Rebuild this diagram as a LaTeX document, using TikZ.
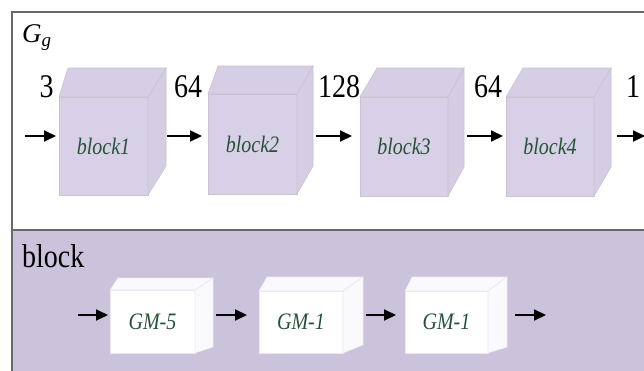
\documentclass[tikz,border=0pt]{standalone}
\usepackage{fontspec}
\usepackage{graphicx}
\setmainfont{Liberation Serif}
\usetikzlibrary{arrows.meta,calc}
\definecolor{pan}{RGB}{203,195,219}
\definecolor{cubef}{RGB}{216,208,230}
\definecolor{cubet}{RGB}{214,206,228}
\definecolor{cubes}{RGB}{213,205,227}
\definecolor{cubee}{RGB}{200,195,208}
\definecolor{gmedge}{RGB}{236,232,242}
\definecolor{gmside}{RGB}{250,249,252}
\definecolor{lbl}{RGB}{38,82,58}
\definecolor{framec}{RGB}{105,105,105}
\newcommand\sy[1]{\scalebox{1}[1.18]{#1}}
\newcommand\cubefaces[5]{%
  \filldraw[cubetop] (#1.north west) -- ++(#2,-#4) -- ($(#1.north east)+(#3,-#4)$) -- (#1.north east) -- cycle;
  \filldraw[cubeside] (#1.north east) -- ($(#1.north east)+(#3,-#4)$) -- ($(#1.south east)+(#3,-#5)$) -- (#1.south east) -- cycle;
}
\tikzset{
  arr/.style={line width=2pt, -{Triangle[length=12pt,width=11pt]}},
  numlbl/.style={anchor=base, inner sep=0pt, font=\fontsize{28}{32}\selectfont},
  frontbox/.style={inner sep=0pt, outer sep=0pt, line width=0.6pt, text=lbl,
    font=\fontsize{20}{24}\selectfont\itshape},
}
\begin{document}
\begin{tikzpicture}[x=1pt,y=-1pt]
\useasboundingbox (0,0) rectangle (644,370);
\fill[white] (0,0) rectangle (644,370);
\fill[pan] (12,230) rectangle (660,380);
\draw[framec, line width=1.3pt] (660,12) -- (12,12) -- (12,380);
\draw[framec, line width=1.3pt] (12,230) -- (660,230);

% top panel title
\node[anchor=base west, inner sep=0pt, font=\fontsize{27}{30}\selectfont] (gg) at (22,42) {\textit{G}\raisebox{-4pt}{\fontsize{19}{22}\selectfont\textit{g}}};

% top cubes
\begin{scope}[cubetop/.style={fill=cubet, draw=cubee, line width=0.6pt},
              cubeside/.style={fill=cubes, draw=cubee, line width=0.6pt},
              front/.style={frontbox, fill=cubef, draw=cubee}]
\node[front, minimum width=89, minimum height=98] (b1) at (103.5,146) {\sy{block1}};
\cubefaces{b1}{9}{18}{29}{29}
\node[front, minimum width=89, minimum height=100] (b2) at (252.5,144) {\sy{block2}};
\cubefaces{b2}{10}{16}{28}{28}
\node[front, minimum width=88, minimum height=99] (b3) at (404,146.5) {\sy{block3}};
\cubefaces{b3}{17}{16}{29}{29}
\node[front, minimum width=88, minimum height=99] (b4) at (550,146.5) {\sy{block4}};
\cubefaces{b4}{17}{17}{29}{29}
\end{scope}

% channel numbers
\node[numlbl] (n1) at (46.5,97) {\sy{3}};
\node[numlbl] (n2) at (188,97) {\sy{64}};
\node[numlbl] (n3) at (339,97) {\sy{128}};
\node[numlbl] (n4) at (488,97) {\sy{64}};
\node[numlbl] (n5) at (633,97) {\sy{1}};

% top arrows
\coordinate (t0s) at (25,136);  \coordinate (t0e) at (56,136);
\coordinate (t1s) at (167,136); \coordinate (t1e) at (202,136);
\coordinate (t2s) at (316,136); \coordinate (t2e) at (352,136);
\coordinate (t3s) at (467,136); \coordinate (t3e) at (503,136);
\coordinate (t4s) at (617,136); \coordinate (t4e) at (645,136);
\draw[arr] (t0s) -- (t0e);
\draw[arr] (t1s) -- (t1e);
\draw[arr] (t2s) -- (t2e);
\draw[arr] (t3s) -- (t3e);
\draw[arr] (t4s) -- (t4e);

% bottom panel title
\node[anchor=base west, inner sep=0pt, font=\fontsize{28}{32}\selectfont] (bl) at (22,267) {\sy{block}};

% bottom cubes
\begin{scope}[cubetop/.style={fill=gmside, draw=gmedge, line width=0.6pt},
              cubeside/.style={fill=gmside, draw=gmedge, line width=0.6pt},
              front/.style={frontbox, fill=white, draw=gmedge}]
\node[front, minimum width=85, minimum height=63] (g1) at (152.5,321.5) {\sy{GM-5}};
\cubefaces{g1}{8}{18}{12}{6}
\node[front, minimum width=84, minimum height=62] (g2) at (301,322) {\sy{GM-1}};
\cubefaces{g2}{8}{20}{14}{8}
\node[front, minimum width=83, minimum height=62] (g3) at (446.5,322) {\sy{GM-1}};
\cubefaces{g3}{7}{19}{14}{6}
\end{scope}

% bottom arrows
\coordinate (s0s) at (78,315);  \coordinate (s0e) at (108,315);
\coordinate (s1s) at (216,315); \coordinate (s1e) at (247,315);
\coordinate (s2s) at (366,315); \coordinate (s2e) at (396,315);
\coordinate (s3s) at (515,315); \coordinate (s3e) at (546,315);
\draw[arr] (s0s) -- (s0e);
\draw[arr] (s1s) -- (s1e);
\draw[arr] (s2s) -- (s2e);
\draw[arr] (s3s) -- (s3e);
\end{tikzpicture}
\end{document}
